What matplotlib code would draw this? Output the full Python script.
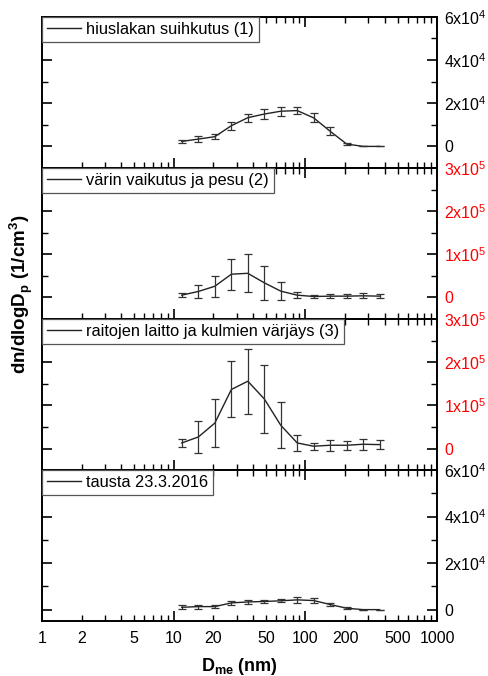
import matplotlib
matplotlib.use("Agg")
import matplotlib.pyplot as plt
import numpy as np
from matplotlib.ticker import FixedLocator, FuncFormatter, LogLocator

plt.rcParams['font.family'] = ['Liberation Sans', 'DejaVu Sans']
plt.rcParams['mathtext.fontset'] = 'custom'
plt.rcParams['mathtext.rm'] = 'Liberation Sans'
plt.rcParams['mathtext.bf'] = 'Liberation Sans:bold'

# NanoScan channel midpoints (nm)
d_me = [11.5, 15.4, 20.5, 27.4, 36.5, 48.7, 64.9, 86.6, 115.5, 154.0, 205.4, 273.8, 365.2]

labels = ["hiuslakan suihkutus (1)", "värin vaikutus ja pesu (2)",
          "raitojen laitto ja kulmien värjäys (3)", "tausta 23.3.2016"]

# dn/dlogDp (1/cm3) and standard deviations
n1 = [2300, 3400, 4500, 9600, 13300, 15000, 16300, 16600, 13200, 7000, 1100, 0, 0]
e1 = [800, 1500, 1200, 1800, 1800, 2100, 2000, 1500, 2100, 1900, 500, 0, 0]
n2 = [5400, 14000, 26000, 54000, 56000, 34000, 14700, 5400, 2300, 3100, 3100, 3900, 3100]
e2 = [4300, 15500, 24000, 36000, 44000, 40000, 21000, 6200, 3000, 5400, 5000, 5400, 3900]
n3 = [13000, 27000, 59000, 137000, 156000, 115000, 54000, 13000, 5400, 7700, 7700, 10000, 9200]
e3 = [10000, 36500, 56000, 65000, 75000, 78000, 53500, 19000, 8000, 12700, 10400, 12300, 9600]
n4 = [1000, 1300, 1300, 2900, 3300, 3500, 3800, 4200, 3900, 2200, 600, 0, 0]
e4 = [900, 900, 800, 700, 800, 700, 700, 1200, 1200, 600, 400, 0, 0]

series = [(n1, e1), (n2, e2), (n3, e3), (n4, e4)]
ylims = [(-10000, 60000), (-50000, 300000), (-50000, 300000), (-5000, 60000)]
ymajor = [[0, 20000, 40000, 60000], [0, 100000, 200000, 300000],
          [0, 100000, 200000, 300000], [0, 20000, 40000, 60000]]
yminor = [[-10000, 10000, 30000, 50000], [50000, 150000, 250000],
          [50000, 150000, 250000], [10000, 30000, 50000]]
label_colors = ['black', 'red', 'red', 'black']

tick_size = 11.5
font_size = 13


def sci_fmt(v, pos):
    if v == 0:
        return "0"
    e = int(np.floor(np.log10(abs(v))))
    m = int(round(v / 10 ** e))
    return "%dx10$^{%d}$" % (m, e)


fig, axes = plt.subplots(4, 1, sharex=True, figsize=(4.88, 6.76), dpi=100)
fig.subplots_adjust(left=0.086, right=0.896, top=0.975, bottom=0.081, hspace=0)

for i, ax in enumerate(axes):
    n, e = series[i]
    ax.plot(d_me, n, '-', color='#222222', linewidth=1.0, label=labels[i])
    ax.errorbar(d_me, n, yerr=e, fmt='none', ecolor='#333333', elinewidth=0.9,
                capsize=3, capthick=0.9)
    ax.set_xscale('log')
    ax.set_xlim(1, 1000)
    ax.set_ylim(ylims[i])
    ax.yaxis.set_major_locator(FixedLocator(ymajor[i]))
    ax.yaxis.set_minor_locator(FixedLocator(yminor[i]))
    ax.yaxis.set_major_formatter(FuncFormatter(sci_fmt))
    ax.tick_params(axis='both', which='both', direction='in', top=True, right=True,
                   left=True, bottom=True, labelleft=False, labelright=True)
    ax.tick_params(which='major', length=7, width=1.2, labelsize=tick_size)
    ax.tick_params(which='minor', length=4, width=1.0)
    ax.tick_params(axis='y', which='major', labelcolor=label_colors[i], pad=5)
    for s in ax.spines.values():
        s.set_linewidth(1.4)
    leg = ax.legend(loc='upper left', bbox_to_anchor=(0, 1), borderaxespad=0,
                    fontsize=11.8, frameon=True, fancybox=False, handlelength=2.1,
                    handletextpad=0.3, borderpad=0.3, framealpha=1)
    leg.get_frame().set_edgecolor('#555555')
    leg.get_frame().set_linewidth(0.9)

bottom = axes[-1]
bottom.xaxis.set_major_locator(LogLocator(base=10, numticks=10))
bottom.xaxis.set_minor_locator(LogLocator(base=10, subs=np.arange(2, 10), numticks=20))
bottom.xaxis.set_major_formatter(FuncFormatter(lambda v, p: "%g" % v))
# only 2x and 5x minor ticks get labels
bottom.xaxis.set_minor_formatter(FuncFormatter(
    lambda v, p: "%g" % v if round(v / 10 ** np.floor(np.log10(v))) in (2, 5) else ""))
bottom.tick_params(axis='x', which='both', labelsize=tick_size, pad=7)

bottom.set_xlabel("D$_\\mathbf{me}$ (nm)", fontsize=font_size, fontweight='bold', labelpad=7)
fig.text(0.044, 0.565, "dn/dlogD$_\\mathbf{p}$ (1/cm$^\\mathbf{3}$)", rotation=90,
         fontsize=13.5, fontweight='bold', ha='center', va='center')

plt.savefig('out.png', dpi=100)
